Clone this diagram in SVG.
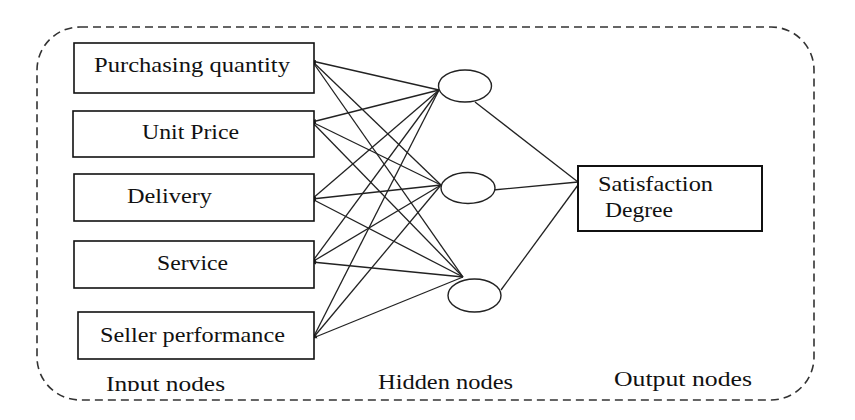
<svg xmlns="http://www.w3.org/2000/svg" width="855" height="420" viewBox="0 0 855 420">
<defs>
<marker id="ah" viewBox="0 0 6 6" refX="5" refY="3" markerWidth="5" markerHeight="5" orient="auto" markerUnits="userSpaceOnUse">
<path d="M0,0.5 L6,3 L0,5.5 z" fill="#222"/>
</marker>
<clipPath id="lc"><rect x="0" y="0" width="855" height="391"/></clipPath>
</defs>
<rect width="855" height="420" fill="#fff"/>
<rect x="37" y="27" width="777" height="373" rx="43" ry="43" fill="none" stroke="#333" stroke-width="1.6" stroke-dasharray="8 5"/>

<g id="connectors" stroke="#222" stroke-width="1.3" fill="none">
<line x1="439" y1="90" x2="312" y2="61" marker-end="url(#ah)"/>
<line x1="441" y1="185" x2="312" y2="61" marker-end="url(#ah)"/>
<line x1="463" y1="277" x2="312" y2="61" marker-end="url(#ah)"/>
<line x1="439" y1="90" x2="312" y2="122" marker-end="url(#ah)"/>
<line x1="441" y1="185" x2="312" y2="122" marker-end="url(#ah)"/>
<line x1="463" y1="277" x2="312" y2="122" marker-end="url(#ah)"/>
<line x1="439" y1="90" x2="312" y2="199" marker-end="url(#ah)"/>
<line x1="441" y1="185" x2="312" y2="199" marker-end="url(#ah)"/>
<line x1="463" y1="277" x2="312" y2="199" marker-end="url(#ah)"/>
<line x1="439" y1="90" x2="312" y2="262" marker-end="url(#ah)"/>
<line x1="441" y1="185" x2="312" y2="262" marker-end="url(#ah)"/>
<line x1="463" y1="277" x2="312" y2="262" marker-end="url(#ah)"/>
<line x1="439" y1="90" x2="313" y2="338" marker-end="url(#ah)"/>
<line x1="441" y1="185" x2="313" y2="338" marker-end="url(#ah)"/>
<line x1="463" y1="277" x2="313" y2="338" marker-end="url(#ah)"/>
<line x1="475" y1="102" x2="578" y2="182"/>
<line x1="493" y1="190" x2="578" y2="182"/>
<line x1="501" y1="290" x2="578" y2="185"/>
</g>

<g id="in1"><rect x="74" y="43" width="240" height="50" fill="#fff" stroke="#111" stroke-width="1.6"/><text x="94" y="72" font-family="Times New Roman, Liberation Serif, serif" font-size="21" fill="#111" textLength="196" lengthAdjust="spacingAndGlyphs">Purchasing quantity</text></g>
<g id="in2"><rect x="73" y="111" width="241" height="46" fill="#fff" stroke="#111" stroke-width="1.6"/><text x="142" y="139" font-family="Times New Roman, Liberation Serif, serif" font-size="21" fill="#111" textLength="97" lengthAdjust="spacingAndGlyphs">Unit Price</text></g>
<g id="in3"><rect x="74" y="174" width="240" height="47" fill="#fff" stroke="#111" stroke-width="1.6"/><text x="127" y="203" font-family="Times New Roman, Liberation Serif, serif" font-size="21" fill="#111" textLength="85" lengthAdjust="spacingAndGlyphs">Delivery</text></g>
<g id="in4"><rect x="74" y="241" width="240" height="47" fill="#fff" stroke="#111" stroke-width="1.6"/><text x="157" y="270" font-family="Times New Roman, Liberation Serif, serif" font-size="21" fill="#111" textLength="71" lengthAdjust="spacingAndGlyphs">Service</text></g>
<g id="in5"><rect x="78" y="312" width="236" height="47" fill="#fff" stroke="#111" stroke-width="1.6"/><text x="100" y="342" font-family="Times New Roman, Liberation Serif, serif" font-size="21" fill="#111" textLength="185" lengthAdjust="spacingAndGlyphs">Seller performance</text></g>

<g id="h1"><ellipse cx="465" cy="86" rx="26.5" ry="16" fill="#fff" stroke="#222" stroke-width="1.4"/></g>
<g id="h2"><ellipse cx="468" cy="188" rx="27" ry="15.5" fill="#fff" stroke="#222" stroke-width="1.4"/></g>
<g id="h3"><ellipse cx="474.5" cy="295.5" rx="26.5" ry="16.5" fill="#fff" stroke="#222" stroke-width="1.4"/></g>

<g id="out"><rect x="578" y="166" width="184" height="65" fill="#fff" stroke="#111" stroke-width="2"/>
<text x="598" y="191" font-family="Times New Roman, Liberation Serif, serif" font-size="21" fill="#111" textLength="115" lengthAdjust="spacingAndGlyphs">Satisfaction</text>
<text x="605" y="217" font-family="Times New Roman, Liberation Serif, serif" font-size="21" fill="#111" textLength="68" lengthAdjust="spacingAndGlyphs">Degree</text></g>

<g id="labels" clip-path="url(#lc)">
<text x="106" y="391" font-family="Times New Roman, Liberation Serif, serif" font-size="21" fill="#111" textLength="119" lengthAdjust="spacingAndGlyphs">Input nodes</text>
<text x="378" y="389" font-family="Times New Roman, Liberation Serif, serif" font-size="21" fill="#111" textLength="135" lengthAdjust="spacingAndGlyphs">Hidden nodes</text>
<text x="614" y="386" font-family="Times New Roman, Liberation Serif, serif" font-size="21" fill="#111" textLength="138" lengthAdjust="spacingAndGlyphs">Output nodes</text>
</g>
</svg>
